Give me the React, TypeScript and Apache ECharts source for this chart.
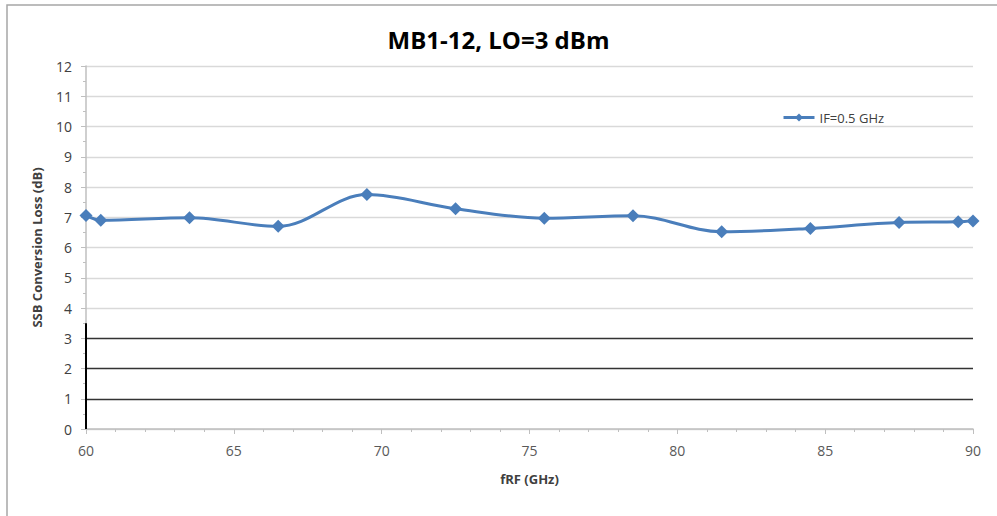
import React, { useEffect, useRef } from "react";
import * as echarts from "echarts";

const title = "MB1-12, LO=3 dBm";
const seriesName = "IF=0.5 GHz";
const freqGHz = [60, 60.5, 63.5, 66.5, 69.5, 72.5, 75.5, 78.5, 81.5, 84.5, 87.5, 89.5, 90];
const lossDb = [7.06, 6.9, 6.98, 6.7, 7.75, 7.28, 6.97, 7.05, 6.52, 6.63, 6.83, 6.85, 6.88];
const xAxisName = "fRF (GHz)";
const yAxisName = "SSB Conversion Loss (dB)";

const FONT = "'Open Sans', 'Noto Sans', sans-serif";

export default function App() {
  const ref = useRef<HTMLDivElement>(null);
  useEffect(() => {
    if (!ref.current) return;
    const chart = echarts.init(ref.current, null, { renderer: "svg" });
    const splitColors = ["#d9d9d9", "#333333", "#333333", "#333333", "#d9d9d9", "#d9d9d9", "#d9d9d9", "#d9d9d9", "#d9d9d9", "#d9d9d9", "#d9d9d9", "#d9d9d9", "#d9d9d9"];
    chart.setOption({
      animation: false,
      backgroundColor: "#ffffff",
      textStyle: { fontFamily: FONT },
      title: {
        text: title,
        left: "center",
        top: 22,
        textStyle: { fontFamily: FONT, fontSize: 24, fontWeight: "bold", color: "#000000" },
      },
      graphic: [
        {
          type: "rect",
          shape: { x: 7, y: 5, width: 1000, height: 530 },
          style: { fill: "none", stroke: "#a6a6a6", lineWidth: 1.5 },
          silent: true,
        },
      ],
      legend: {
        left: 777,
        top: 106,
        itemWidth: 31,
        itemHeight: 10,
        itemGap: 4,
        textStyle: { fontFamily: FONT, fontSize: 13, color: "#404040" },
        lineStyle: { width: 3 },
        data: [{ name: seriesName }],
      },
      grid: { left: 86, right: 24, top: 66, bottom: 87 },
      xAxis: {
        type: "value",
        min: 60,
        max: 90,
        interval: 5,
        name: xAxisName,
        nameLocation: "middle",
        nameGap: 43,
        nameTextStyle: { fontFamily: FONT, fontSize: 13, fontWeight: "bold", color: "#404040" },
        axisLine: { show: true, lineStyle: { color: "#bfbfbf", width: 1.5 } },
        axisTick: { show: true, length: 5, lineStyle: { color: "#bfbfbf" } },
        minorTick: { show: true, splitNumber: 5, length: 3, lineStyle: { color: "#bfbfbf" } },
        axisLabel: { fontFamily: FONT, fontSize: 14, color: "#595959", margin: 14 },
        splitLine: { show: false },
      },
      yAxis: {
        type: "value",
        min: 0,
        max: 12,
        interval: 1,
        name: yAxisName,
        nameLocation: "middle",
        nameGap: 43,
        nameRotate: 90,
        nameTextStyle: { fontFamily: FONT, fontSize: 13, fontWeight: "bold", color: "#404040" },
        axisLine: { show: true, lineStyle: { color: "#bfbfbf", width: 1.5 } },
        axisTick: { show: true, length: 5, lineStyle: { color: "#bfbfbf" } },
        minorTick: { show: true, splitNumber: 2, length: 3, lineStyle: { color: "#bfbfbf" } },
        axisLabel: { fontFamily: FONT, fontSize: 14, color: "#404040", margin: 14 },
        splitLine: { show: true, lineStyle: { color: splitColors, width: 1.3 } },
      },
      series: [
        {
          name: seriesName,
          type: "line",
          data: freqGHz.map((f, i) => [f, lossDb[i]]),
          smooth: 0.35,
          symbol: "diamond",
          symbolSize: 13,
          lineStyle: { color: "#4a7ebb", width: 3 },
          itemStyle: { color: "#4a7ebb" },
          markLine: {
            silent: true,
            symbol: "none",
            label: { show: false },
            lineStyle: { color: "#000000", width: 2, type: "solid" },
            data: [[{ coord: [60, 0] }, { coord: [60, 3.5] }]],
          },
        },
      ],
    });
    return () => chart.dispose();
  }, []);
  return (
    <div
      ref={ref}
      style={{ position: "absolute", left: 0, top: 0, width: 997, height: 516, background: "#fff" }}
    />
  );
}
